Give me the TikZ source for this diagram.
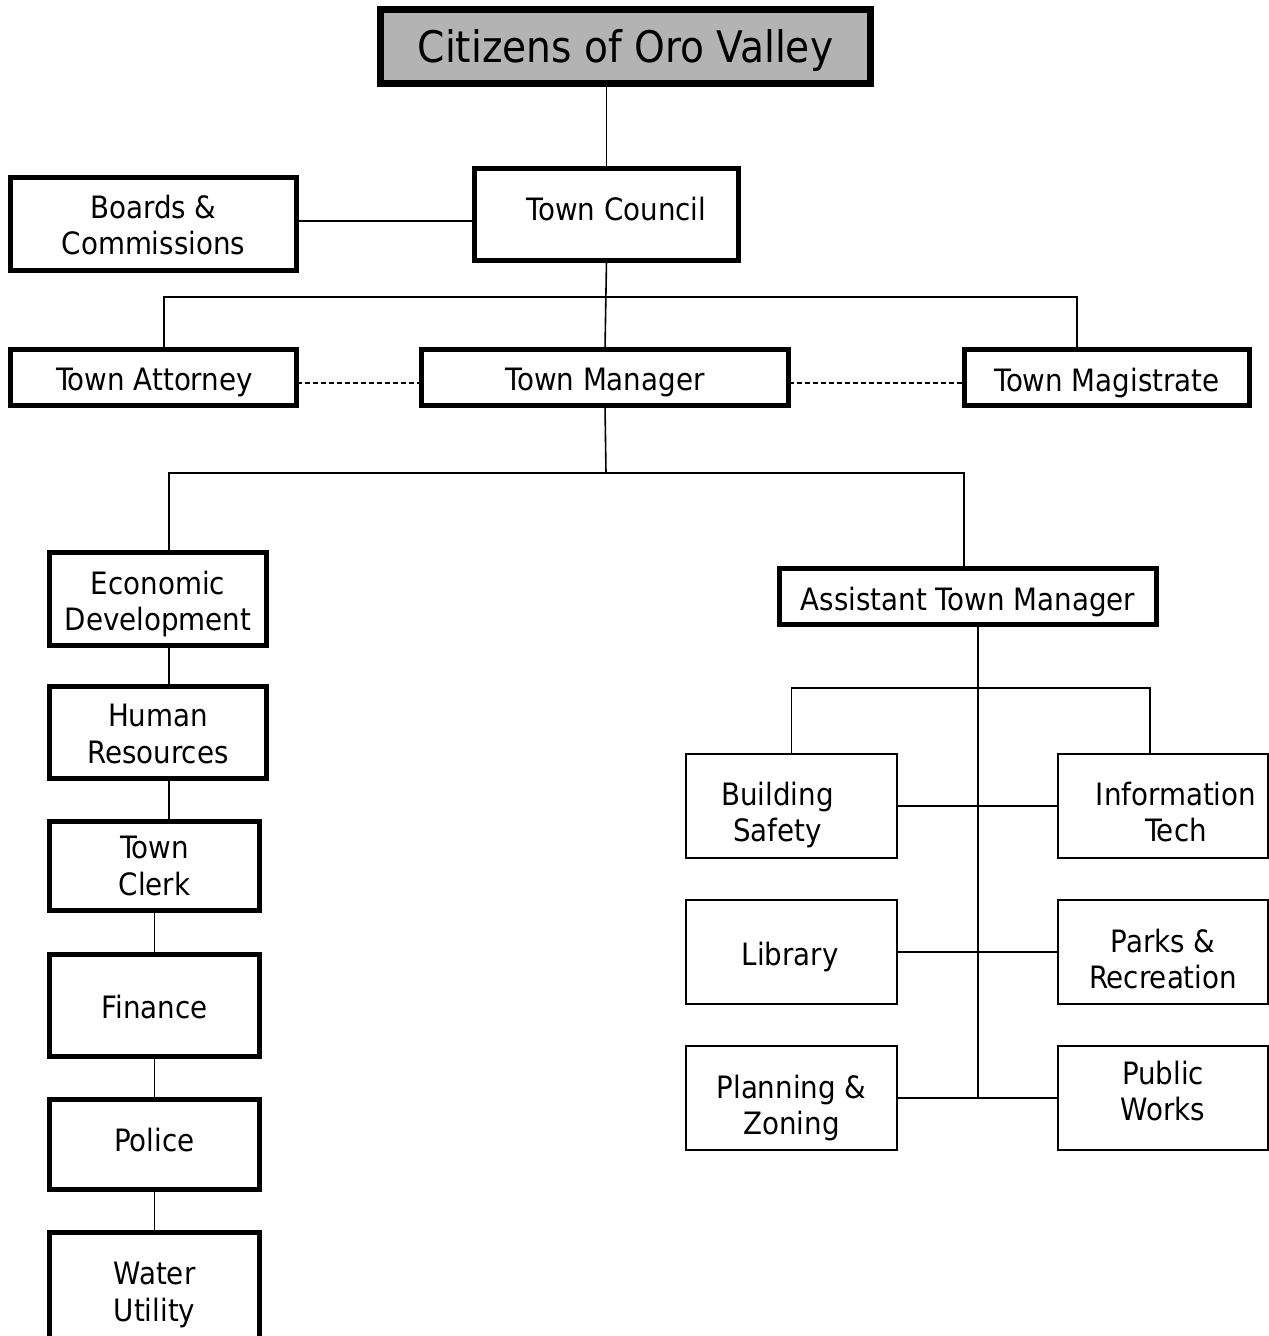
\documentclass[tikz,border=0pt]{standalone}
\usepackage{fontspec}
\setmainfont{DejaVu Sans Condensed}
\definecolor{titlegray}{RGB}{179,179,179}
\begin{document}
\begin{tikzpicture}[x=1pt,y=-1pt,
  txt/.style={align=center,font=\fontsize{30.8}{36.5}\selectfont,inner sep=0pt},
  heavybox/.style={draw,line width=5pt,inner sep=0pt,outer sep=0pt},
  lightbox/.style={draw,line width=1.6pt,inner sep=0pt,outer sep=0pt},
  conn/.style={line width=1.6pt},
  dotconn/.style={line width=1.6pt,dash pattern=on 5pt off 3pt}]
\useasboundingbox (0,0) rectangle (1269,1336);
% top
\node[draw,line width=7pt,fill=titlegray,inner sep=0pt,outer sep=0pt,minimum width=490,minimum height=74,
  label={[txt,font=\fontsize{43.5}{50}\selectfont,shift={(0,3.5)}]center:Citizens of Oro Valley}] (cit) at (625.5,46.5) {};
\node[heavybox,minimum width=264,minimum height=92,label={[txt,shift={(10,-5)}]center:Town Council}] (tc) at (606.5,214.5) {};
\node[heavybox,minimum width=286,minimum height=93,label={[txt,shift={(0,1)}]center:{Boards \&\\Commissions}}] (bc) at (153.5,224) {};
\node[heavybox,minimum width=286,minimum height=56,label={[txt,shift={(1,5)}]center:Town Attorney}] (ta) at (153.5,377.5) {};
\node[heavybox,minimum width=367,minimum height=56,label={[txt,shift={(0,5)}]center:Town Manager}] (tm) at (605,377.5) {};
\node[heavybox,minimum width=285,minimum height=56,label={[txt,shift={(0,5)}]center:Town Magistrate}] (tmag) at (1107,377.5) {};
% left column
\node[heavybox,minimum width=217,minimum height=93,label={[txt,shift={(0,5)}]center:{Economic\\Development}}] (ed) at (158,599) {};
\node[heavybox,minimum width=217,minimum height=92,label={[txt,shift={(0,1.5)}]center:{Human\\Resources}}] (hr) at (158,732.5) {};
\node[heavybox,minimum width=210,minimum height=89,label={[txt]center:{Town\\Clerk}}] (clerk) at (154.5,866) {};
\node[heavybox,minimum width=210,minimum height=102,label={[txt,shift={(0,2)}]center:Finance}] (fin) at (154.5,1005.5) {};
\node[heavybox,minimum width=210,minimum height=90,label={[txt,shift={(0,-4)}]center:Police}] (pol) at (154.5,1144.5) {};
\node[heavybox,minimum width=210,minimum height=117,label={[txt,shift={(0,4)}]center:{Water\\Utility}}] (wat) at (154.5,1291) {};
% right part
\node[heavybox,minimum width=377,minimum height=56,label={[txt,shift={(0,5)}]center:Assistant Town Manager}] (atm) at (968,596.5) {};
\node[lightbox,minimum width=211.4,minimum height=104.4,label={[txt,shift={(-14,9)}]center:{Building\\Safety}}] (bs) at (791.5,806) {};
\node[lightbox,minimum width=210.4,minimum height=104.4,label={[txt,shift={(13,6)}]center:{Information\\Tech}}] (it) at (1163,806) {};
\node[lightbox,minimum width=211.4,minimum height=104.4,label={[txt,shift={(-1.5,5)}]center:Library}] (lib) at (791.5,952) {};
\node[lightbox,minimum width=210.4,minimum height=104.4,label={[txt,shift={(0,7)}]center:{Parks \&\\Recreation}}] (parks) at (1163,952) {};
\node[lightbox,minimum width=211.4,minimum height=104.4,label={[txt,shift={(0,10)}]center:{Planning \&\\Zoning}}] (pz) at (791.5,1098) {};
\node[lightbox,minimum width=210.4,minimum height=104.4,label={[txt,shift={(0,-7)}]center:{Public\\Works}}] (pw) at (1163,1098) {};
% junction points
\coordinate (bar1) at (606,297);
\coordinate (bar2) at (606,473);
\coordinate (bar3) at (978,688);
% connectors
\draw[conn] (tc.north) -- (tc.north |- cit.south);
\draw[conn] ([yshift=3pt]bc.east) -- ([yshift=3pt]bc.east -| tc.west);
\draw[conn] (tc.south) -- (tm.north);
\draw[conn] ([xshift=10.5pt]ta.north) |- (bar1) -| ([xshift=-30pt]tmag.north);
\draw[dotconn] ([yshift=-5.5pt]ta.east) -- ([yshift=-5.5pt]ta.east -| tm.west);
\draw[dotconn] ([yshift=-5.5pt]tm.east) -- ([yshift=-5.5pt]tm.east -| tmag.west);
\draw[conn] (tm.south) -- (bar2);
\draw[conn] ([xshift=11pt]ed.north) |- (bar2) -| ([xshift=-4pt]atm.north);
\draw[conn] ([xshift=11pt]ed.south) -- ([xshift=11pt]hr.north);
\draw[conn] ([xshift=11pt]hr.south) -- ([xshift=14.5pt]clerk.north);
\draw[conn] (clerk.south) -- (fin.north);
\draw[conn] (fin.south) -- (pol.north);
\draw[conn] (pol.south) -- (wat.north);
\draw[conn] ([xshift=10pt]atm.south) -- ([xshift=10pt]atm.south |- pz.east);
\draw[conn] (bs.north) |- (bar3) -| ([xshift=-13pt]it.north);
\draw[conn] (bs.east) -- (it.west);
\draw[conn] (lib.east) -- (parks.west);
\draw[conn] (pz.east) -- (pw.west);
\end{tikzpicture}
\end{document}
